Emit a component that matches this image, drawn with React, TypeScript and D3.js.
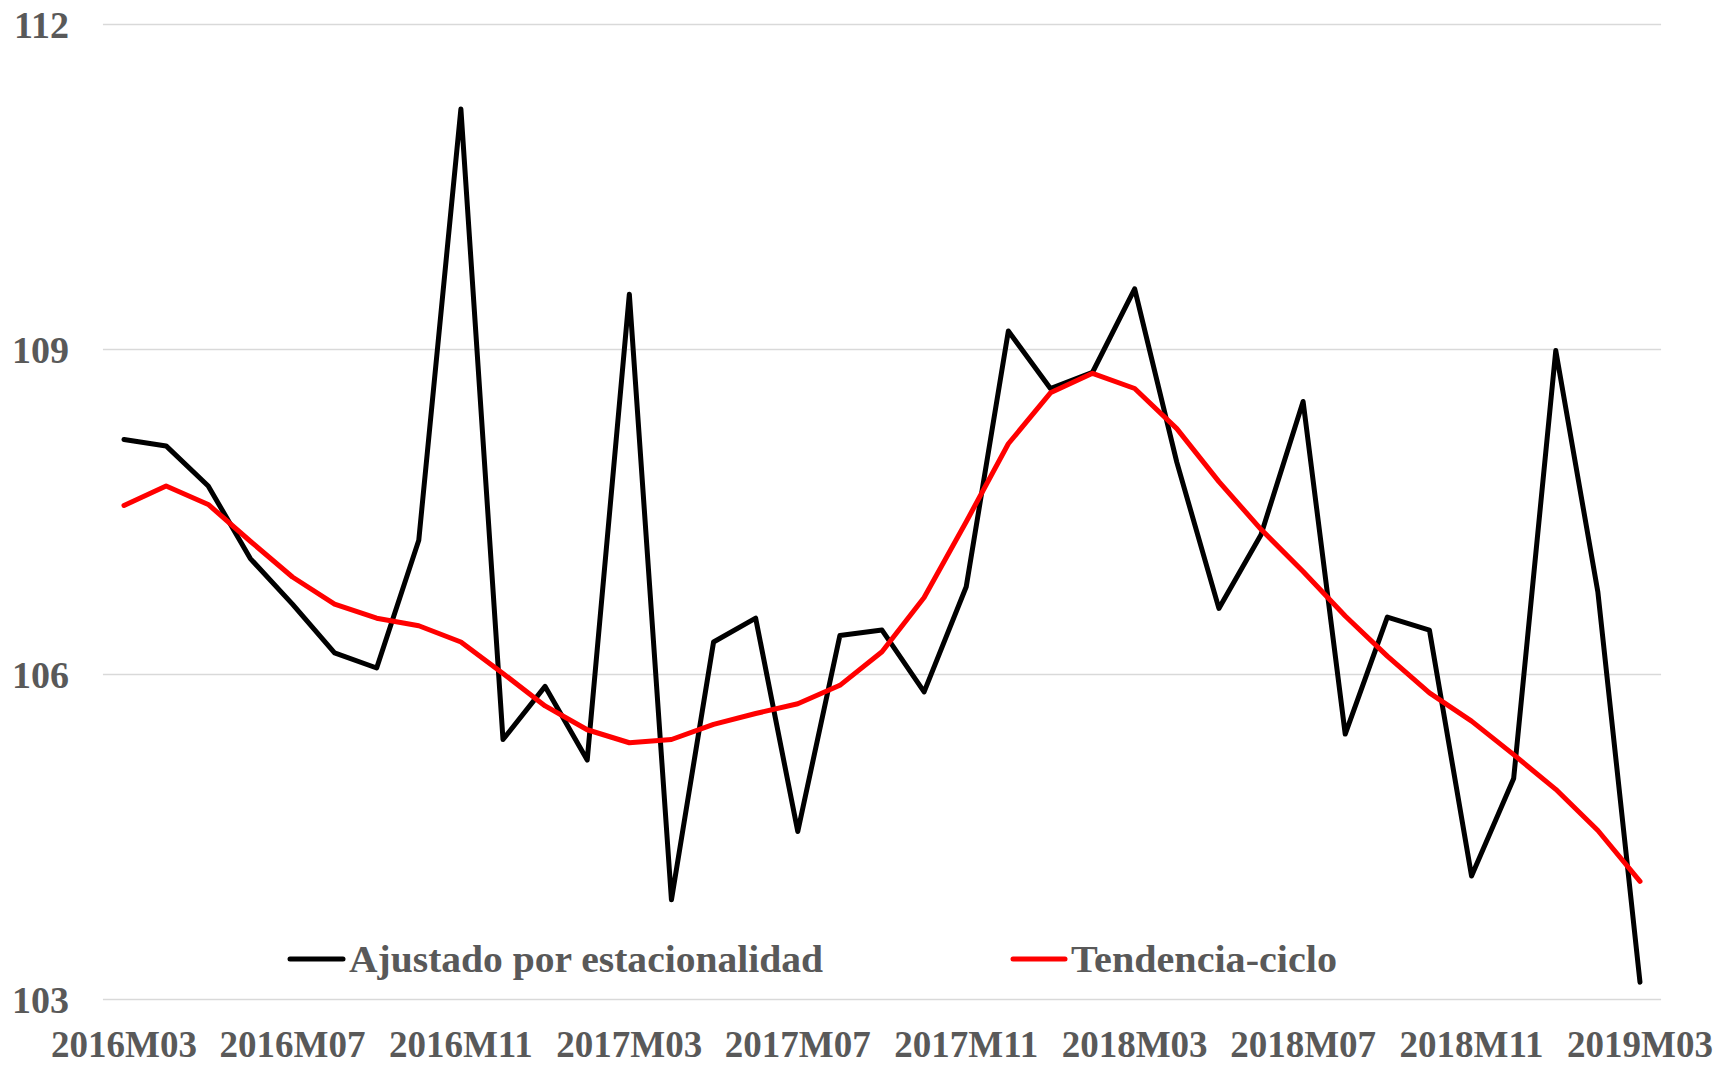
import React from "react";
import * as d3 from "d3";

const categories = [
  "2016M03","2016M04","2016M05","2016M06","2016M07","2016M08","2016M09","2016M10","2016M11","2016M12",
  "2017M01","2017M02","2017M03","2017M04","2017M05","2017M06","2017M07","2017M08","2017M09","2017M10","2017M11","2017M12",
  "2018M01","2018M02","2018M03","2018M04","2018M05","2018M06","2018M07","2018M08","2018M09","2018M10","2018M11","2018M12",
  "2019M01","2019M02","2019M03",
];

const ajustado = [
  108.17, 108.11, 107.74, 107.07, 106.65, 106.20, 106.06, 107.24, 111.22, 105.40,
  105.89, 105.21, 109.51, 103.92, 106.30, 106.52, 104.55, 106.36, 106.41, 105.84, 106.81, 109.17,
  108.64, 108.79, 109.56, 107.96, 106.61, 107.29, 108.52, 105.45, 106.53, 106.41, 104.14, 105.04,
  108.99, 106.76, 103.16,
];

const tendencia = [
  107.56, 107.74, 107.57, 107.23, 106.90, 106.65, 106.52, 106.45, 106.30, 106.01,
  105.71, 105.49, 105.37, 105.40, 105.54, 105.64, 105.73, 105.90, 106.21, 106.71, 107.41, 108.13,
  108.60, 108.78, 108.64, 108.27, 107.78, 107.34, 106.95, 106.54, 106.17, 105.83, 105.57, 105.26,
  104.94, 104.56, 104.09,
];

const yTicks = [103, 106, 109, 112];
const xTickLabels = ["2016M03","2016M07","2016M11","2017M03","2017M07","2017M11","2018M03","2018M07","2018M11","2019M03"];
const seriesNames = ["Ajustado por estacionalidad", "Tendencia-ciclo"];
const seriesColors = ["#000000", "#ff0000"];

const W = 1734;
const H = 1066;
const FONT = "'Liberation Serif', 'Times New Roman', serif";
const TEXT_COLOR = "#595959";

export default function App() {
  const x = d3.scalePoint<string>().domain(categories).range([124, 1640]);
  const step = x.step();
  const y = d3.scaleLinear().domain([103, 112]).range([999.5, 24.5]);

  const line = d3
    .line<number>()
    .x((_, i) => x(categories[i]) as number)
    .y((d) => y(d))
    .curve(d3.curveLinear);

  const gridX0 = (x(categories[0]) as number) - step / 2;
  const gridX1 = (x(categories[categories.length - 1]) as number) + step / 2;

  const legendY = 959;
  const legendItems = [
    { x0: 290, x1: 343, tx: 349, len: 474 },
    { x0: 1013, x1: 1065, tx: 1071, len: 266 },
  ];

  return (
    <svg
      width={W}
      height={H}
      style={{ position: "absolute", left: 0, top: 0, background: "#fff" }}
      xmlns="http://www.w3.org/2000/svg"
    >
      <rect x={0} y={0} width={W} height={H} fill="#fff" />
      {yTicks.map((t) => (
        <g key={t}>
          <line x1={gridX0} x2={gridX1} y1={y(t)} y2={y(t)} stroke="#d9d9d9" strokeWidth={1.6} />
          <text
            x={69}
            y={y(t)}
            textAnchor="end"
            dominantBaseline="central"
            fontFamily={FONT}
            fontWeight="bold"
            fontSize={38}
            fill={TEXT_COLOR}
          >
            {t}
          </text>
        </g>
      ))}
      {xTickLabels.map((lab) => (
        <text
          key={lab}
          x={x(lab) as number}
          y={1057}
          textAnchor="middle"
          fontFamily={FONT}
          fontWeight="bold"
          fontSize={37}
          fill={TEXT_COLOR}
        >
          {lab}
        </text>
      ))}
      <path d={line(ajustado) || ""} fill="none" stroke={seriesColors[0]} strokeWidth={5} strokeLinejoin="round" strokeLinecap="round" />
      <path d={line(tendencia) || ""} fill="none" stroke={seriesColors[1]} strokeWidth={5} strokeLinejoin="round" strokeLinecap="round" />
      {legendItems.map((it, i) => (
        <g key={i}>
          <line x1={it.x0} x2={it.x1} y1={legendY} y2={legendY} stroke={seriesColors[i]} strokeWidth={5} strokeLinecap="round" />
          <text
            x={it.tx}
            y={legendY}
            dominantBaseline="central"
            fontFamily={FONT}
            fontWeight="bold"
            fontSize={38}
            fill={TEXT_COLOR}
            textLength={it.len}
            lengthAdjust="spacingAndGlyphs"
          >
            {seriesNames[i]}
          </text>
        </g>
      ))}
    </svg>
  );
}
